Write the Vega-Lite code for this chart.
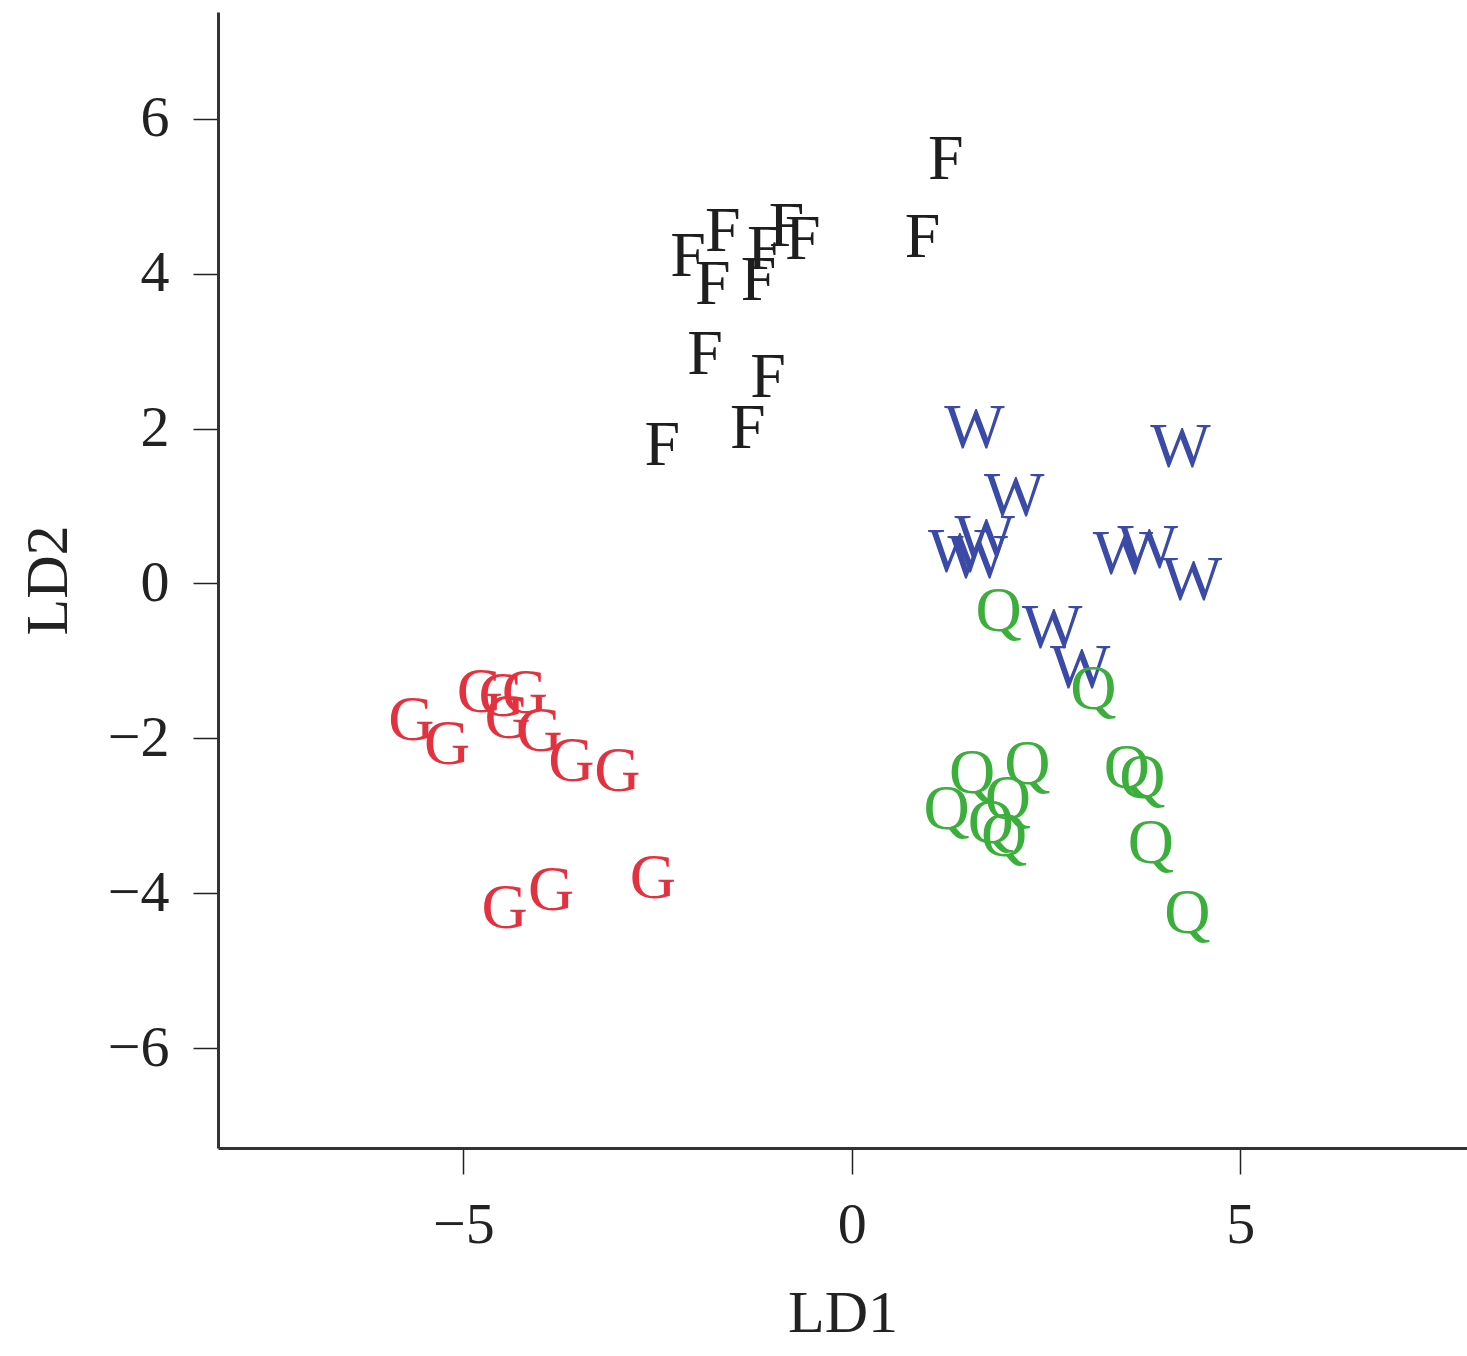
{
  "$schema": "https://vega.github.io/schema/vega-lite/v6.json",
  "autosize": "none",
  "width": 1249,
  "height": 1136,
  "padding": {"left": 218, "top": 12, "right": 0, "bottom": 208},
  "background": "white",
  "config": {"view": {"stroke": null}},
  "data": {"values": [
    {"group": "F", "LD1": 1.21, "LD2": 5.47},
    {"group": "F", "LD1": 0.91, "LD2": 4.46},
    {"group": "F", "LD1": -2.11, "LD2": 4.21},
    {"group": "F", "LD1": -1.66, "LD2": 4.54},
    {"group": "F", "LD1": -1.79, "LD2": 3.85},
    {"group": "F", "LD1": -1.20, "LD2": 3.90},
    {"group": "F", "LD1": -1.12, "LD2": 4.31},
    {"group": "F", "LD1": -0.84, "LD2": 4.61},
    {"group": "F", "LD1": -0.63, "LD2": 4.44},
    {"group": "F", "LD1": -1.89, "LD2": 2.95},
    {"group": "F", "LD1": -1.08, "LD2": 2.66},
    {"group": "F", "LD1": -1.34, "LD2": 1.99},
    {"group": "F", "LD1": -2.44, "LD2": 1.78},
    {"group": "W", "LD1": 1.58, "LD2": 1.99},
    {"group": "W", "LD1": 4.23, "LD2": 1.75},
    {"group": "W", "LD1": 2.09, "LD2": 1.12},
    {"group": "W", "LD1": 1.37, "LD2": 0.40},
    {"group": "W", "LD1": 1.62, "LD2": 0.31},
    {"group": "W", "LD1": 1.71, "LD2": 0.57},
    {"group": "W", "LD1": 3.49, "LD2": 0.37},
    {"group": "W", "LD1": 3.81, "LD2": 0.45},
    {"group": "W", "LD1": 4.38, "LD2": 0.03},
    {"group": "W", "LD1": 2.58, "LD2": -0.59},
    {"group": "W", "LD1": 2.94, "LD2": -1.11},
    {"group": "Q", "LD1": 1.89, "LD2": -0.37},
    {"group": "Q", "LD1": 3.11, "LD2": -1.37},
    {"group": "Q", "LD1": 2.26, "LD2": -2.34},
    {"group": "Q", "LD1": 1.55, "LD2": -2.46},
    {"group": "Q", "LD1": 1.22, "LD2": -2.92},
    {"group": "Q", "LD1": 2.01, "LD2": -2.79},
    {"group": "Q", "LD1": 1.79, "LD2": -3.11},
    {"group": "Q", "LD1": 1.96, "LD2": -3.28},
    {"group": "Q", "LD1": 3.54, "LD2": -2.40},
    {"group": "Q", "LD1": 3.74, "LD2": -2.53},
    {"group": "Q", "LD1": 3.85, "LD2": -3.37},
    {"group": "Q", "LD1": 4.32, "LD2": -4.27},
    {"group": "G", "LD1": -5.67, "LD2": -1.78},
    {"group": "G", "LD1": -5.21, "LD2": -2.08},
    {"group": "G", "LD1": -4.79, "LD2": -1.41},
    {"group": "G", "LD1": -4.51, "LD2": -1.47},
    {"group": "G", "LD1": -4.21, "LD2": -1.43},
    {"group": "G", "LD1": -4.43, "LD2": -1.75},
    {"group": "G", "LD1": -4.02, "LD2": -1.92},
    {"group": "G", "LD1": -3.61, "LD2": -2.30},
    {"group": "G", "LD1": -3.02, "LD2": -2.43},
    {"group": "G", "LD1": -4.47, "LD2": -4.21},
    {"group": "G", "LD1": -3.87, "LD2": -3.97},
    {"group": "G", "LD1": -2.56, "LD2": -3.82}
  ]},
  "mark": {"type": "text", "font": "Liberation Serif", "fontSize": 64, "align": "center", "baseline": "middle", "clip": false},
  "encoding": {
    "x": {
      "field": "LD1", "type": "quantitative",
      "scale": {"domain": [-8.16, 7.92], "nice": false, "zero": false},
      "axis": {
        "values": [-5, 0, 5], "grid": false,
        "title": "LD1", "titleFont": "Liberation Serif", "titleFontSize": 60, "titleFontWeight": "normal", "titleColor": "#222", "titlePadding": 30,
        "labelFont": "Liberation Serif", "labelFontSize": 58, "labelColor": "#222", "labelPadding": 22,
        "tickSize": 26, "tickColor": "#222", "tickWidth": 1.5,
        "domainColor": "#333", "domainWidth": 3, "labelFlush": false
      }
    },
    "y": {
      "field": "LD2", "type": "quantitative",
      "scale": {"domain": [-7.29, 7.38], "nice": false, "zero": false},
      "axis": {
        "values": [-6, -4, -2, 0, 2, 4, 6], "grid": false,
        "title": "LD2", "titleFont": "Liberation Serif", "titleFontSize": 60, "titleFontWeight": "normal", "titleColor": "#222", "titlePadding": 28,
        "labelFont": "Liberation Serif", "labelFontSize": 58, "labelColor": "#222", "labelPadding": 24,
        "tickSize": 25, "tickColor": "#222", "tickWidth": 1.5,
        "domainColor": "#333", "domainWidth": 3, "labelFlush": false
      }
    },
    "text": {"field": "group", "type": "nominal"},
    "color": {
      "field": "group", "type": "nominal", "legend": null,
      "scale": {"domain": ["F", "W", "Q", "G"], "range": ["#1e1e1e", "#3a4aa6", "#3cae3c", "#e3323f"]}
    }
  }
}
